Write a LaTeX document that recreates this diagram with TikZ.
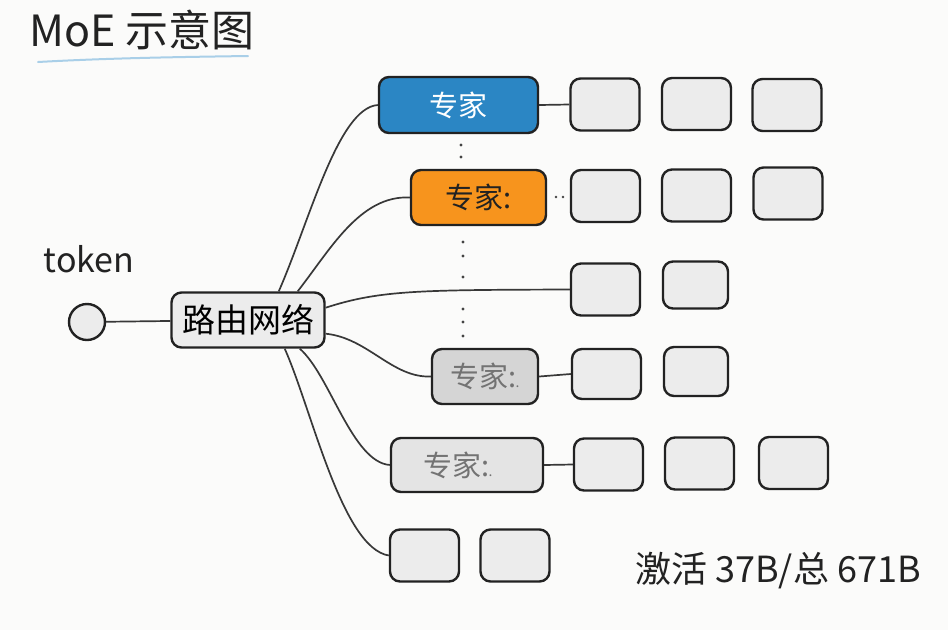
\documentclass[tikz,border=0pt]{standalone}
\usepackage{fontspec}
\setmainfont{Noto Sans CJK SC}
\definecolor{bg}{HTML}{FBFBFA}
\definecolor{boxgray}{HTML}{ECECEC}
\definecolor{blueexp}{HTML}{2B86C4}
\definecolor{orangeexp}{HTML}{F7941D}
\definecolor{gray3}{HTML}{D5D5D5}
\definecolor{gray4}{HTML}{E4E4E4}
\definecolor{ink}{HTML}{222222}
\definecolor{lineblue}{HTML}{A9CFE8}
\begin{document}
\begin{tikzpicture}[x=1pt,y=-1pt,
  outline/.style={draw=ink, line width=2.4pt, rounded corners=10pt, inner sep=0pt},
  sbox/.style={outline, fill=boxgray, minimum width=69pt, minimum height=52pt},
  expert/.style={outline, font=\fontsize{29}{32}\selectfont},
  conn/.style={draw=ink!90, line width=1.7pt},
  vdot/.style={fill=ink!85}
]
\fill[bg] (0,0) rectangle (948,630);
\useasboundingbox (0,0) rectangle (948,630);

% title
\node[anchor=west, font=\fontsize{43}{46}\selectfont, text=ink, inner sep=0pt] (title) at (29,30) {MoE 示意图};
\draw[lineblue, line width=2pt, line cap=round] (38,62) .. controls (110,58) and (180,57) .. (248,56);

% token
\node[font=\fontsize{34}{38}\selectfont, text=ink] (tok) at (89,259) {token};
\node[circle, draw=ink, line width=2.4pt, fill=boxgray, minimum size=36pt, inner sep=0pt] (tc) at (87,322) {};

% router
\node[outline, fill=boxgray, minimum width=153pt, minimum height=55pt, font=\fontsize{33}{36}\selectfont] (router) at (248,320) {路由网络};
\draw[conn] (tc) -- (router);

% experts
\node[expert, fill=blueexp, text=white, minimum width=159pt, minimum height=56pt] (e1) at (458.5,105) {专家};
\node[expert, fill=orangeexp, text=ink, minimum width=135pt, minimum height=55pt] (e2) at (478.5,197.5) {专家:};
\node[expert, fill=gray3, text=black!55, minimum width=106pt, minimum height=55pt] (e3) at (485,376.5) {专家:\kern-1pt{\fontsize{14}{14}\selectfont .}};
\node[expert, fill=gray4, text=black!55, minimum width=152pt, minimum height=54pt] (e4) at (467,465) {\hspace*{-18pt}专家:\kern-1pt{\fontsize{14}{14}\selectfont .}};

% small boxes
\node[sbox] (b11) at (605,104.5) {};
\node[sbox] (b12) at (696.5,104) {};
\node[sbox] (b13) at (787,105) {};
\node[sbox] (b21) at (605.5,196) {};
\node[sbox] (b22) at (696.5,195.5) {};
\node[sbox] (b23) at (788,193.5) {};
\node[sbox] (b31) at (605.5,289.5) {};
\node[sbox, minimum width=65pt, minimum height=47pt] (b32) at (695.5,285) {};
\node[sbox, minimum height=50pt] (b41) at (606.5,374) {};
\node[sbox, minimum width=64pt, minimum height=49pt] (b42) at (696,371.5) {};
\node[sbox] (b51) at (608.5,464.5) {};
\node[sbox] (b52) at (699.5,463.5) {};
\node[sbox] (b53) at (793.5,463) {};
\node[sbox] (b61) at (424.5,555.5) {};
\node[sbox] (b62) at (515,555.5) {};

% expert to first box
\draw[conn] (e1.east) -- (b11.west);
\draw[conn] (e3.east) -- (b41.west);
\draw[conn] (e4.east) -- (b51.west);

% router to experts
\draw[conn] (router.43) .. controls (310,220) and (338,108) .. (e1.west);
\draw[conn] (router.30) .. controls (330,250) and (360,195) .. (e2.west);
\draw[conn] (router.9) .. controls (380,290) and (420,290) .. (b31.west);
\draw[conn] (router.-10) .. controls (368,338) and (392,378) .. (e3.west);
\draw[conn] (router.-29) .. controls (330,375) and (352,462) .. (e4.west);
\draw[conn] (router.-38) .. controls (312,410) and (342,548) .. (b61.west);

% dots
\foreach \y in {145,157} \fill[vdot] (461,\y) circle (1.6pt);
\foreach \y in {242,256,277,309,322,336} \fill[vdot] (463,\y) circle (1.6pt);
\foreach \x in {556,563} \fill[vdot] (\x,197) circle (1.3pt);

% footer
\node[font=\fontsize{36}{40}\selectfont, text=ink] (foot) at (778,571) {激活 37B/总 671B};
\end{tikzpicture}
\end{document}
